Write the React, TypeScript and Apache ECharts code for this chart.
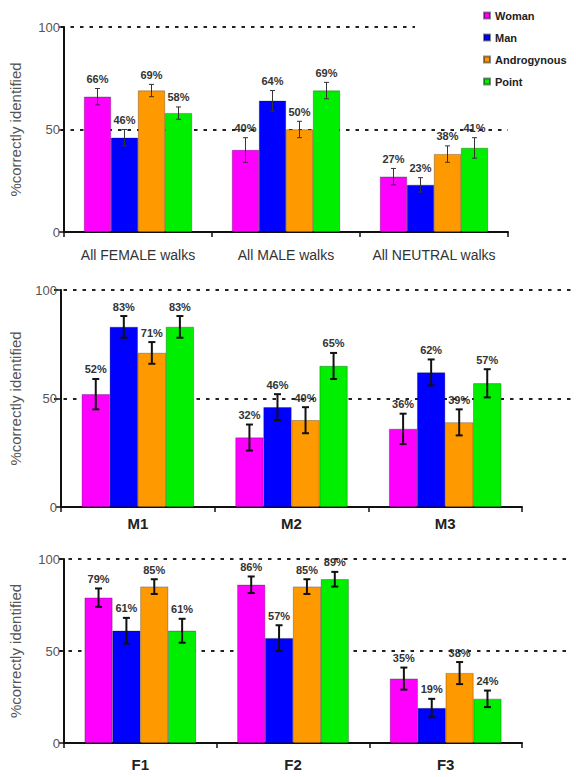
import React, { useEffect, useRef } from "react";
import * as echarts from "echarts";

const seriesNames = ["Woman", "Man", "Androgynous", "Point"];
const colors = ["#ff00ff", "#0000ff", "#ff9900", "#00ee00"];

const cats1 = ["All FEMALE walks", "All MALE walks", "All NEUTRAL walks"];
const p1Woman = [66, 40, 27];
const p1Man = [46, 64, 23];
const p1Andro = [69, 50, 38];
const p1Point = [58, 69, 41];
const p1WomanErr = [4, 6, 4];
const p1ManErr = [4, 5, 3.5];
const p1AndroErr = [3, 4, 4];
const p1PointErr = [3, 4, 5];

const cats2 = ["M1", "M2", "M3"];
const p2Woman = [52, 32, 36];
const p2Man = [83, 46, 62];
const p2Andro = [71, 40, 39];
const p2Point = [83, 65, 57];
const p2WomanErr = [7, 6, 7];
const p2ManErr = [5, 6, 6];
const p2AndroErr = [5, 6, 6];
const p2PointErr = [5, 6, 6.5];

const cats3 = ["F1", "F2", "F3"];
const p3Woman = [79, 86, 35];
const p3Man = [61, 57, 19];
const p3Andro = [85, 85, 38];
const p3Point = [61, 89, 24];
const p3WomanErr = [5, 4.5, 6];
const p3ManErr = [7, 7, 5];
const p3AndroErr = [4, 4, 6];
const p3PointErr = [6.5, 4, 4.5];

const yTicks = [0, 50, 100];

const FONT = "'Liberation Sans', Arial, sans-serif";
const GAP = 0.27;

export default function App() {
  const ref = useRef<HTMLDivElement>(null);
  useEffect(() => {
    document.body.style.margin = "0";
    const chart = echarts.init(ref.current!, null, { renderer: "svg" });

    const panels = [
      {
        cats: cats1,
        vals: [p1Woman, p1Man, p1Andro, p1Point],
        errs: [p1WomanErr, p1ManErr, p1AndroErr, p1PointErr],
        grid: { left: 61, right: 68, top: 27, height: 205 },
        overlayRight: 68,
        nameGap: 41,
        xLabel: { fontSize: 14, fontWeight: "normal", margin: 16, color: "#333" },
        errW: 1,
        errColor: "#333",
        cap: 2.5,
      },
      {
        cats: cats2,
        vals: [p2Woman, p2Man, p2Andro, p2Point],
        errs: [p2WomanErr, p2ManErr, p2AndroErr, p2PointErr],
        grid: { left: 54, right: 54, top: 290, height: 217 },
        overlayRight: 4,
        nameGap: 38,
        xLabel: { fontSize: 15, fontWeight: "bold", margin: 9, color: "#222" },
        errW: 2,
        errColor: "#111",
        cap: 3.5,
      },
      {
        cats: cats3,
        vals: [p3Woman, p3Man, p3Andro, p3Point],
        errs: [p3WomanErr, p3ManErr, p3AndroErr, p3PointErr],
        grid: { left: 59, right: 54, top: 559, height: 184 },
        overlayRight: 4,
        nameGap: 41,
        xLabel: { fontSize: 15, fontWeight: "bold", margin: 14, color: "#222" },
        errW: 2,
        errColor: "#111",
        cap: 3.5,
      },
    ];

    const grids: any[] = [];
    const xAxes: any[] = [];
    const yAxes: any[] = [];
    const series: any[] = [];

    panels.forEach((p, pi) => {
      grids.push({ ...p.grid });
      grids.push({ left: p.grid.left, right: p.overlayRight, top: p.grid.top, height: p.grid.height });
      const gMain = pi * 2;
      const gOver = pi * 2 + 1;

      xAxes.push({
        type: "category",
        gridIndex: gMain,
        data: p.cats,
        axisLine: { lineStyle: { color: "#111", width: 2 } },
        axisTick: { show: true, length: 5, lineStyle: { color: "#111", width: 1.5 } },
        axisLabel: {
          interval: 0,
          fontFamily: FONT,
          fontSize: p.xLabel.fontSize,
          fontWeight: p.xLabel.fontWeight,
          margin: p.xLabel.margin,
          color: p.xLabel.color,
        },
        splitLine: { show: false },
      });
      xAxes.push({
        type: "value",
        gridIndex: gOver,
        min: 0,
        max: 1,
        show: false,
      });

      yAxes.push({
        type: "value",
        gridIndex: gMain,
        min: yTicks[0],
        max: yTicks[yTicks.length - 1],
        interval: 50,
        name: "%correctly identified",
        nameLocation: "middle",
        nameGap: p.nameGap,
        nameTextStyle: { fontFamily: FONT, fontSize: 15, color: "#555" },
        axisLine: { show: true, lineStyle: { color: "#111", width: 2 } },
        axisTick: { show: true, length: 5, lineStyle: { color: "#111", width: 1.5 } },
        axisLabel: { fontFamily: FONT, fontSize: 13, color: "#555", margin: 4 },
        splitLine: { show: false },
      });
      yAxes.push({
        type: "value",
        gridIndex: gOver,
        min: yTicks[0],
        max: yTicks[yTicks.length - 1],
        interval: 50,
        axisLine: { show: false },
        axisTick: { show: false },
        axisLabel: { show: false },
        splitLine: {
          show: true,
          lineStyle: { color: ["transparent", "#222", "#222"], width: 2, type: [3.5, 6] },
        },
      });

      const xIdx = pi * 2;
      const yIdx = pi * 2;

      seriesNames.forEach((name, si) => {
        series.push({
          type: "bar",
          name,
          xAxisIndex: xIdx,
          yAxisIndex: yIdx,
          data: p.vals[si],
          barGap: "0%",
          barCategoryGap: GAP * 100 + "%",
          itemStyle: { color: colors[si], borderColor: "rgba(0,0,0,0.45)", borderWidth: 0.6 },
          z: 2,
        });
      });

      const errData: number[][] = [];
      seriesNames.forEach((_, si) => {
        p.cats.forEach((_, ci) => {
          errData.push([ci, si, p.vals[si][ci], p.errs[si][ci]]);
        });
      });

      series.push({
        type: "custom",
        xAxisIndex: xIdx,
        yAxisIndex: yIdx,
        z: 5,
        encode: { x: 0, y: 2 },
        data: errData,
        renderItem: (params: any, api: any) => {
          const c = api.value(0);
          const s = api.value(1);
          const v = api.value(2);
          const e = api.value(3);
          const base = api.coord([c, v]);
          const band = api.size([1, 0])[0];
          const barW = (band * (1 - GAP)) / 4;
          const x = base[0] + (s - 1.5) * barW;
          const yTop = api.coord([c, v + e])[1];
          const yBot = api.coord([c, v - e])[1];
          const ls = { stroke: p.errColor, lineWidth: p.errW };
          return {
            type: "group",
            children: [
              { type: "line", shape: { x1: x, y1: yTop, x2: x, y2: yBot }, style: ls },
              { type: "line", shape: { x1: x - p.cap, y1: yTop, x2: x + p.cap, y2: yTop }, style: ls },
              { type: "line", shape: { x1: x - p.cap, y1: yBot, x2: x + p.cap, y2: yBot }, style: ls },
              {
                type: "text",
                style: {
                  text: v + "%",
                  x,
                  y: yTop - 4,
                  align: "center",
                  verticalAlign: "bottom",
                  font: "bold 11px " + FONT,
                  fill: "#333",
                },
              },
            ],
          };
        },
      });
    });

    chart.setOption({
      animation: false,
      backgroundColor: "#ffffff",
      textStyle: { fontFamily: FONT },
      legend: {
        data: seriesNames,
        orient: "vertical",
        left: 415,
        top: 4,
        padding: [5, 5, 5, 68],
        backgroundColor: "#ffffff",
        itemWidth: 6,
        itemHeight: 6,
        itemGap: 9,
        icon: "rect",
        textStyle: { fontFamily: FONT, fontSize: 11, fontWeight: "bold", color: "#222", lineHeight: 13 },
      },
      grid: grids,
      xAxis: xAxes,
      yAxis: yAxes,
      series,
    });

    return () => chart.dispose();
  }, []);

  return <div ref={ref} style={{ width: 576, height: 777 }} />;
}
